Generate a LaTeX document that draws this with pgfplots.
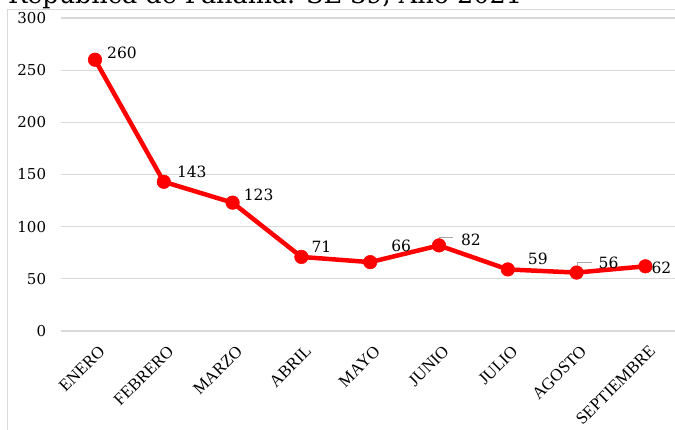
\documentclass[border=0pt]{standalone}
\usepackage{pgfplots}
\pgfplotsset{compat=1.18}
\usepackage{pgfplotstable}
\usepackage{fontspec}
\setmainfont{Liberation Serif}
\newfontfamily\numfont{DejaVu Serif}

\definecolor{gridgray}{HTML}{D9D9D9}
\definecolor{leadergray}{HTML}{A6A6A6}

% x = month index, dx/dy = label offset from the point (pt)
\pgfplotstableread{
x y dx dy
0 260 27 7
1 143 28 10
2 123 26 8
3 71 20 10
4 66 31 16
5 82 32 6
6 59 30 11
7 56 32 10
8 62 16 -2
}\casos

\begin{document}
\begin{tikzpicture}
\useasboundingbox (0pt,0pt) rectangle (675pt,430pt);
\draw[gridgray, line width=1pt] (7.5pt,-5pt) -- (7.5pt,420pt) -- (690pt,420pt);
\node[anchor=base west, inner sep=0pt, font=\numfont\fontsize{25.5}{30}\selectfont] at (8pt,426.5pt) {República de Panamá. SE 39, Año 2021};
\begin{axis}[
    at={(60.6pt,99pt)}, anchor=south west,
    scale only axis, width=619.2pt, height=313pt,
    xmin=-0.5, xmax=8.5, ymin=0, ymax=300,
    xtick={0,...,8},
    xticklabels={ENERO,FEBRERO,MARZO,ABRIL,MAYO,JUNIO,JULIO,AGOSTO,SEPTIEMBRE},
    ytick={0,50,...,300},
    ymajorgrids,
    major grid style={gridgray, line width=1.2pt},
    axis line style={draw=none},
    tick style={draw=none},
    clip=false,
    /pgf/number format/assume math mode=true,
    yticklabel style={font=\numfont\fontsize{15}{18}\selectfont, xshift=-11pt},
    xticklabel style={font=\fontsize{17}{20}\selectfont, rotate=45, anchor=north east, xshift=-4pt, yshift=-8pt},
]
\addplot[red, line width=4.5pt, line join=round, mark=*, mark size=6.8pt,
    mark options={fill=red, draw=red, line width=0.5pt},
    visualization depends on={\thisrow{dx} \as \dx},
    visualization depends on={\thisrow{dy} \as \dy},
    nodes near coords,
    nodes near coords style={anchor=center, text=black, xshift=\dx pt, yshift=\dy pt,
        font=\numfont\fontsize{15.5}{18}\selectfont},
] table[x=x, y=y] {\casos};
\draw[leadergray, line width=1pt] ([xshift=1pt, yshift=2pt]axis cs:5,82)
    -- ([xshift=1pt, yshift=8pt]axis cs:5,82) -- ([xshift=14pt, yshift=8pt]axis cs:5,82);
\draw[leadergray, line width=1pt] ([xshift=1pt, yshift=3pt]axis cs:7,56)
    -- ([xshift=1pt, yshift=10pt]axis cs:7,56) -- ([xshift=15pt, yshift=10pt]axis cs:7,56);
\end{axis}
\end{tikzpicture}
\end{document}
